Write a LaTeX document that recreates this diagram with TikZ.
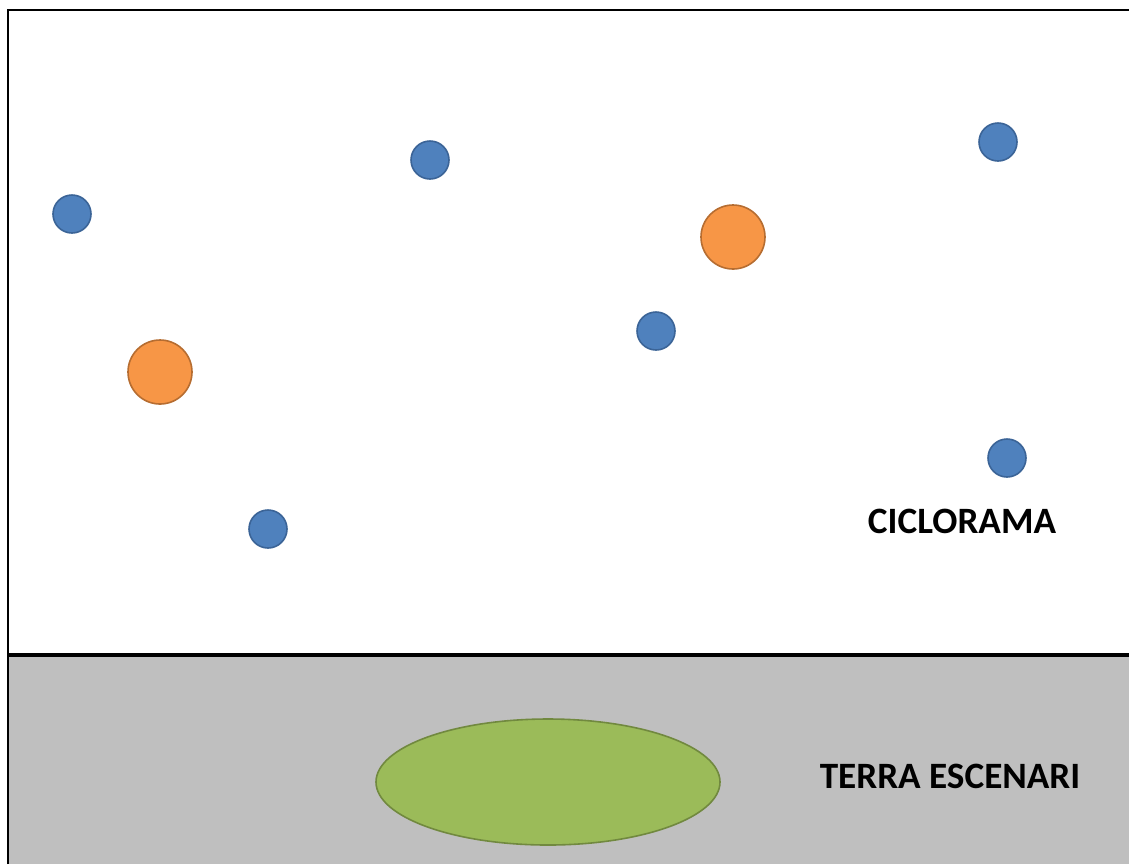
\documentclass[tikz,border=0pt]{standalone}
\usepackage{fontspec}
\setmainfont{Carlito}
\definecolor{focusblau}{HTML}{4F81BD}
\definecolor{voraBlau}{HTML}{3B6497}
\definecolor{focustaronja}{HTML}{F79646}
\definecolor{voraTaronja}{HTML}{B66D31}
\definecolor{tarima}{HTML}{9BBB59}
\definecolor{voraTarima}{HTML}{71893F}
\definecolor{terra}{HTML}{BFBFBF}
\begin{document}
\begin{tikzpicture}[x=0.5pt, y=-0.5pt]
    \useasboundingbox (0,0) rectangle (1129,864);
    % -----------------------------------------------------
    % 1) Terra de l'escenari (zona grisa) i marc
    % -----------------------------------------------------
    \fill[terra] (8,655) rectangle (1129,864);
    \draw[line width=1.1pt] (8,864) -- (8,10) -- (1129,10);
    \draw[line width=1.6pt] (8,655) -- (1129,655);

    % -----------------------------------------------------
    % 2) Focus petits (blaus) sobre el ciclorama
    % -----------------------------------------------------
    \foreach \px/\py in {72/214, 430/160, 998/142, 656/331, 1007/458, 268/529}
        \filldraw[fill=focusblau, draw=voraBlau, line width=0.8pt] (\px,\py) circle (19);

    % -----------------------------------------------------
    % 3) Focus grans (taronja)
    % -----------------------------------------------------
    \filldraw[fill=focustaronja, draw=voraTaronja, line width=0.8pt] (733,237) circle (32);
    \filldraw[fill=focustaronja, draw=voraTaronja, line width=0.8pt] (160,372) circle (32);

    % -----------------------------------------------------
    % 4) Tarima (el·lipse verda) a terra
    % -----------------------------------------------------
    \filldraw[fill=tarima, draw=voraTarima, line width=0.8pt] (548,782) ellipse (172 and 63);

    % -----------------------------------------------------
    % 5) Rètols
    % -----------------------------------------------------
    \node[font=\fontsize{18.6}{22}\selectfont\bfseries] (ciclorama) at (962,521) {CICLORAMA};
    \node[font=\fontsize{18.6}{22}\selectfont\bfseries] (terraEsc) at (950,776) {TERRA ESCENARI};
\end{tikzpicture}
\end{document}
